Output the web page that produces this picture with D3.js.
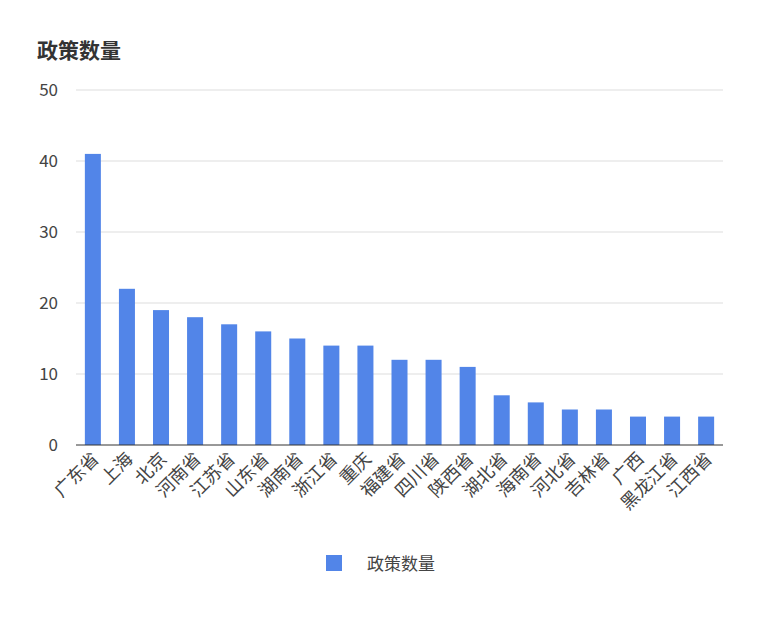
<!DOCTYPE html>
<html><head><meta charset="utf-8">
<script src="https://cdn.jsdelivr.net/npm/d3@7/dist/d3.min.js"></script>
<style>body{margin:0;background:#fff}</style></head>
<body><svg id="c" width="759" height="625"></svg>
<script>
const categories=["广东省","上海","北京","河南省","江苏省","山东省","湖南省","浙江省","重庆","福建省","四川省","陕西省","湖北省","海南省","河北省","吉林省","广西","黑龙江省","江西省"];
const values=[41,22,19,18,17,16,15,14,14,12,12,11,7,6,5,5,4,4,4];
const yTicks=[0,10,20,30,40,50];
const seriesName="政策数量";
const svg=d3.select("#c");
const font="'Noto Sans CJK SC','Noto Sans',sans-serif";
const x=d3.scaleBand().domain(categories).range([76,723]).paddingInner(0.53).paddingOuter(0.26);
const y=d3.scaleLinear().domain([0,50]).range([445,90]);
svg.append("text").attr("x",37).attr("y",58).attr("font-family",font).attr("font-size",21).attr("font-weight","bold").attr("fill","#333").text(seriesName);
svg.selectAll(".g").data(yTicks.filter(d=>d>0)).join("line").attr("x1",76).attr("x2",723).attr("y1",d=>y(d)).attr("y2",d=>y(d)).attr("stroke","#ddd");
svg.selectAll(".yl").data(yTicks).join("text").attr("x",58).attr("y",d=>y(d)+6).attr("text-anchor","end").attr("font-family",font).attr("font-size",17).attr("fill","#444").text(d=>d);
svg.selectAll(".b").data(values).join("rect").attr("x",(d,i)=>x(categories[i])).attr("width",x.bandwidth()).attr("y",d=>y(d)).attr("height",d=>y(0)-y(d)).attr("fill","#5285e8");
svg.append("line").attr("x1",76).attr("x2",723).attr("y1",445).attr("y2",445).attr("stroke","#333");
svg.selectAll(".xl").data(categories).join("text").attr("transform",d=>`translate(${x(d)+x.bandwidth()/2+7},${460}) rotate(-45)`).attr("text-anchor","end").attr("font-family",font).attr("font-size",18).attr("fill","#444").text(d=>d);
svg.append("rect").attr("x",326).attr("y",555).attr("width",16).attr("height",16).attr("fill","#5285e8");
svg.append("text").attr("x",367).attr("y",570).attr("font-family",font).attr("font-size",17).attr("fill","#444").text(seriesName);
</script></body></html>
